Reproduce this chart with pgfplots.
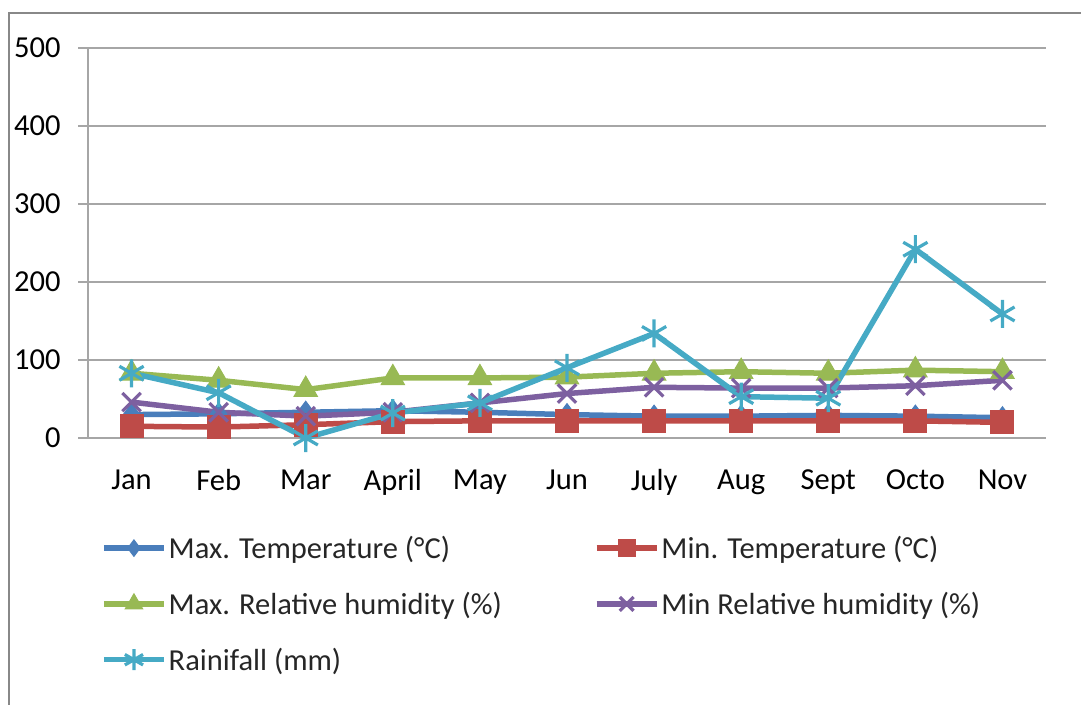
\documentclass[border=0pt]{standalone}
\usepackage{fontspec}
\setmainfont{Carlito}
\usepackage{pgfplots}
\pgfplotsset{compat=1.18}
\definecolor{cMaxT}{HTML}{4A7EBB}
\definecolor{cMinT}{HTML}{BE4B48}
\definecolor{cMaxH}{HTML}{98B954}
\definecolor{cMinH}{HTML}{7D60A0}
\definecolor{cRain}{HTML}{46AAC5}
\definecolor{cGrid}{HTML}{A6A6A6}
\definecolor{cFrame}{HTML}{888888}
\begin{document}
\begin{tikzpicture}
\useasboundingbox (0pt,0pt) rectangle (1081pt,704pt);
\draw[cFrame, line width=2.5pt] (9pt,-30pt) rectangle (1110pt,691pt);
\begin{axis}[
  at={(88pt,266pt)}, anchor=south west,
  scale only axis, width=958pt, height=390pt,
  xmin=-0.5, xmax=10.5, ymin=0, ymax=500,
  enlargelimits=false, clip=false,
  axis x line=bottom, axis y line=left,
  axis line style={-, cGrid, line width=1.3pt},
  xtick={0,...,10},
  xticklabels={Jan,Feb,Mar,April,May,Jun,July,Aug,Sept,Octo,Nov},
  xtick style={draw=none},
  extra x ticks={-0.5,0.5,...,10.5},
  extra x tick labels={},
  extra x tick style={tick style={draw=cGrid, line width=1.3pt}, major tick length=10pt, tick align=outside},
  ytick={0,100,...,500},
  ytick style={draw=cGrid, line width=1.3pt},
  major tick length=10pt, tick align=outside,
  ymajorgrids, grid style={cGrid, line width=1.3pt},
  ticklabel style={font=\fontsize{30.5}{36}\selectfont, text=black},
  /pgf/number format/assume math mode=true,
  xticklabel style={yshift=-18pt},
  yticklabel style={xshift=-14pt},
  every axis plot/.append style={line width=5.5pt},
  legend columns=2,
  legend cell align=left,
  legend style={at={(0,0)}, anchor=north west, xshift=10pt, yshift=-94pt,
    draw=none, fill=none, font=\fontsize{30.5}{36}\selectfont, text=black!85,
    row sep=28pt,
    /tikz/every even column/.append style={column sep=90pt}},
  legend image code/.code={%
    \draw[mark repeat=2, mark phase=2, #1, every mark/.append style={scale=0.75}]
      plot coordinates {(0pt,0pt) (30pt,0pt) (60pt,0pt)};},
]
\addplot[cMaxT, mark=diamond*, mark size=11pt, mark options={fill=cMaxT, line width=1pt}]
  coordinates {(0,30) (1,31) (2,33) (3,35) (4,33) (5,30) (6,28) (7,28) (8,29) (9,28) (10,26)};
\addlegendentry{Max. Temperature (°C)}
\addplot[cMinT, mark=square*, mark size=11.5pt, mark options={fill=cMinT, line width=1pt}]
  coordinates {(0,15) (1,14) (2,17) (3,21) (4,22) (5,22) (6,22) (7,22) (8,22) (9,22) (10,20)};
\addlegendentry{Min. Temperature (°C)}
\addplot[cMaxH, mark=triangle*, mark size=13.5pt, mark options={fill=cMaxH, line width=1pt}]
  coordinates {(0,83) (1,74) (2,62) (3,77) (4,77) (5,78) (6,83) (7,85) (8,83) (9,87) (10,85)};
\addlegendentry{Max. Relative humidity (\%)}
\addplot[cMinH, mark=x, mark size=13pt, mark options={line width=3.2pt}]
  coordinates {(0,46) (1,33) (2,28) (3,33) (4,45) (5,57) (6,65) (7,64) (8,64) (9,67) (10,74)};
\addlegendentry{Min Relative humidity (\%)}
\addplot[cRain, mark=asterisk, mark size=14pt, mark options={line width=3.2pt}]
  coordinates {(0,83) (1,58) (2,0) (3,32) (4,45) (5,90) (6,134) (7,53) (8,51) (9,242) (10,159)};
\addlegendentry{Rainifall (mm)}
\end{axis}
\end{tikzpicture}
\end{document}
